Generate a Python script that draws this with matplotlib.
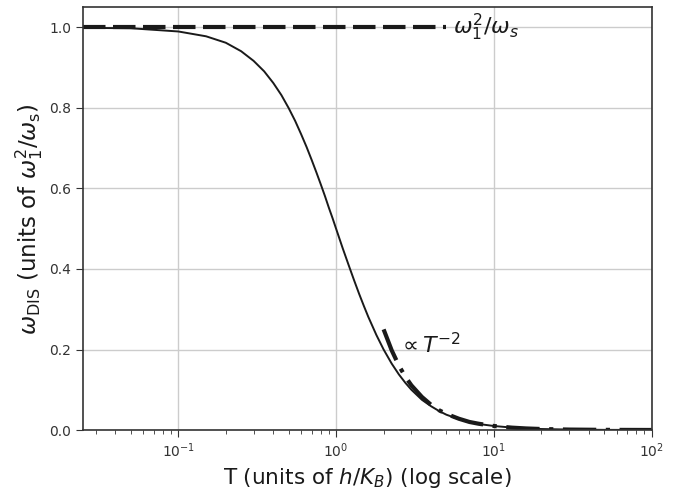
import matplotlib
matplotlib.use("Agg")
import matplotlib.pyplot as plt

# temperature grid and dissipation rate
T = [0.025, 0.05, 0.1, 0.15, 0.2, 0.25, 0.3, 0.35, 0.4, 0.45, 0.5, 0.55, 0.6, 0.65, 0.7,
     0.75, 0.8, 0.85, 0.9, 0.95, 1.0, 1.1, 1.2, 1.3, 1.4, 1.5, 1.6, 1.8, 2.0, 2.25, 2.5,
     2.75, 3.0, 3.5, 4.0, 4.5, 5.0, 6.0, 7.0, 8.0, 10.0, 13.0, 16.0, 20.0, 30.0, 50.0, 100.0]
omega_dis = [0.999, 0.998, 0.990, 0.978, 0.962, 0.941, 0.917, 0.891, 0.862, 0.832, 0.800,
             0.768, 0.735, 0.703, 0.671, 0.640, 0.610, 0.581, 0.552, 0.526, 0.500, 0.452,
             0.410, 0.372, 0.338, 0.308, 0.281, 0.236, 0.200, 0.165, 0.138, 0.117, 0.100,
             0.075, 0.059, 0.047, 0.038, 0.027, 0.020, 0.015, 0.010, 0.006, 0.004, 0.0025,
             0.0011, 0.0004, 0.0001]

# high temperature asymptote ~ T^-2
T_asym = [2.0, 2.25, 2.5, 2.75, 3.0, 3.5, 4.0, 4.5, 5.0, 6.0, 7.0, 8.0, 10.0, 13.0, 16.0,
          20.0, 30.0, 50.0, 100.0]
omega_asym = [0.250, 0.198, 0.160, 0.132, 0.111, 0.082, 0.0625, 0.049, 0.040, 0.028, 0.020,
              0.0156, 0.010, 0.0059, 0.0039, 0.0025, 0.0011, 0.0004, 0.0001]

# low temperature limit
T_low = [0.025, 5.0]
omega_low = [1.0, 1.0]

fig = plt.figure(figsize=(6.81, 4.91), dpi=100)
ax = fig.add_axes([0.1223, 0.1242, 0.8347, 0.8609])

ax.plot(T, omega_dis, color='#1a1a1a', lw=1.4)
ax.plot(T_low, omega_low, color='#1a1a1a', lw=3, linestyle=(0, (5.4, 1.8)))
ax.plot(T_asym, omega_asym, color='#1a1a1a', lw=3, linestyle=(0, (8, 2.3, 1, 2.3)))

ax.text(5.5, 1.0, r'$\omega_1^2/\omega_s$', fontsize=16, va='center', ha='left', color='#1a1a1a')
ax.text(2.45, 0.212, r'$\propto T^{-2}$', fontsize=16, va='center', ha='left', color='#1a1a1a')

ax.set_xscale('log')
ax.set_xlim(0.025, 100)
ax.set_ylim(0, 1.05)
ax.set_yticks([0.0, 0.2, 0.4, 0.6, 0.8, 1.0])
ax.grid(True, which='major', color='#cccccc', lw=1)
ax.set_axisbelow(True)

for s in ax.spines.values():
    s.set_color('#333333')
    s.set_linewidth(1.2)

ax.tick_params(axis='both', which='major', labelsize=10, colors='#333333', length=5)
ax.tick_params(axis='x', which='minor', colors='#333333', length=3)

ax.set_xlabel(r'T (units of $h/K_B$) (log scale)', fontsize=15.5, color='#1a1a1a')
ax.set_ylabel(r'$\omega_{\rm DIS}$ (units of $\omega_1^2/\omega_{\rm s}$)', fontsize=16.5,
              color='#1a1a1a', labelpad=3)

fig.savefig('out.png', dpi=100)
